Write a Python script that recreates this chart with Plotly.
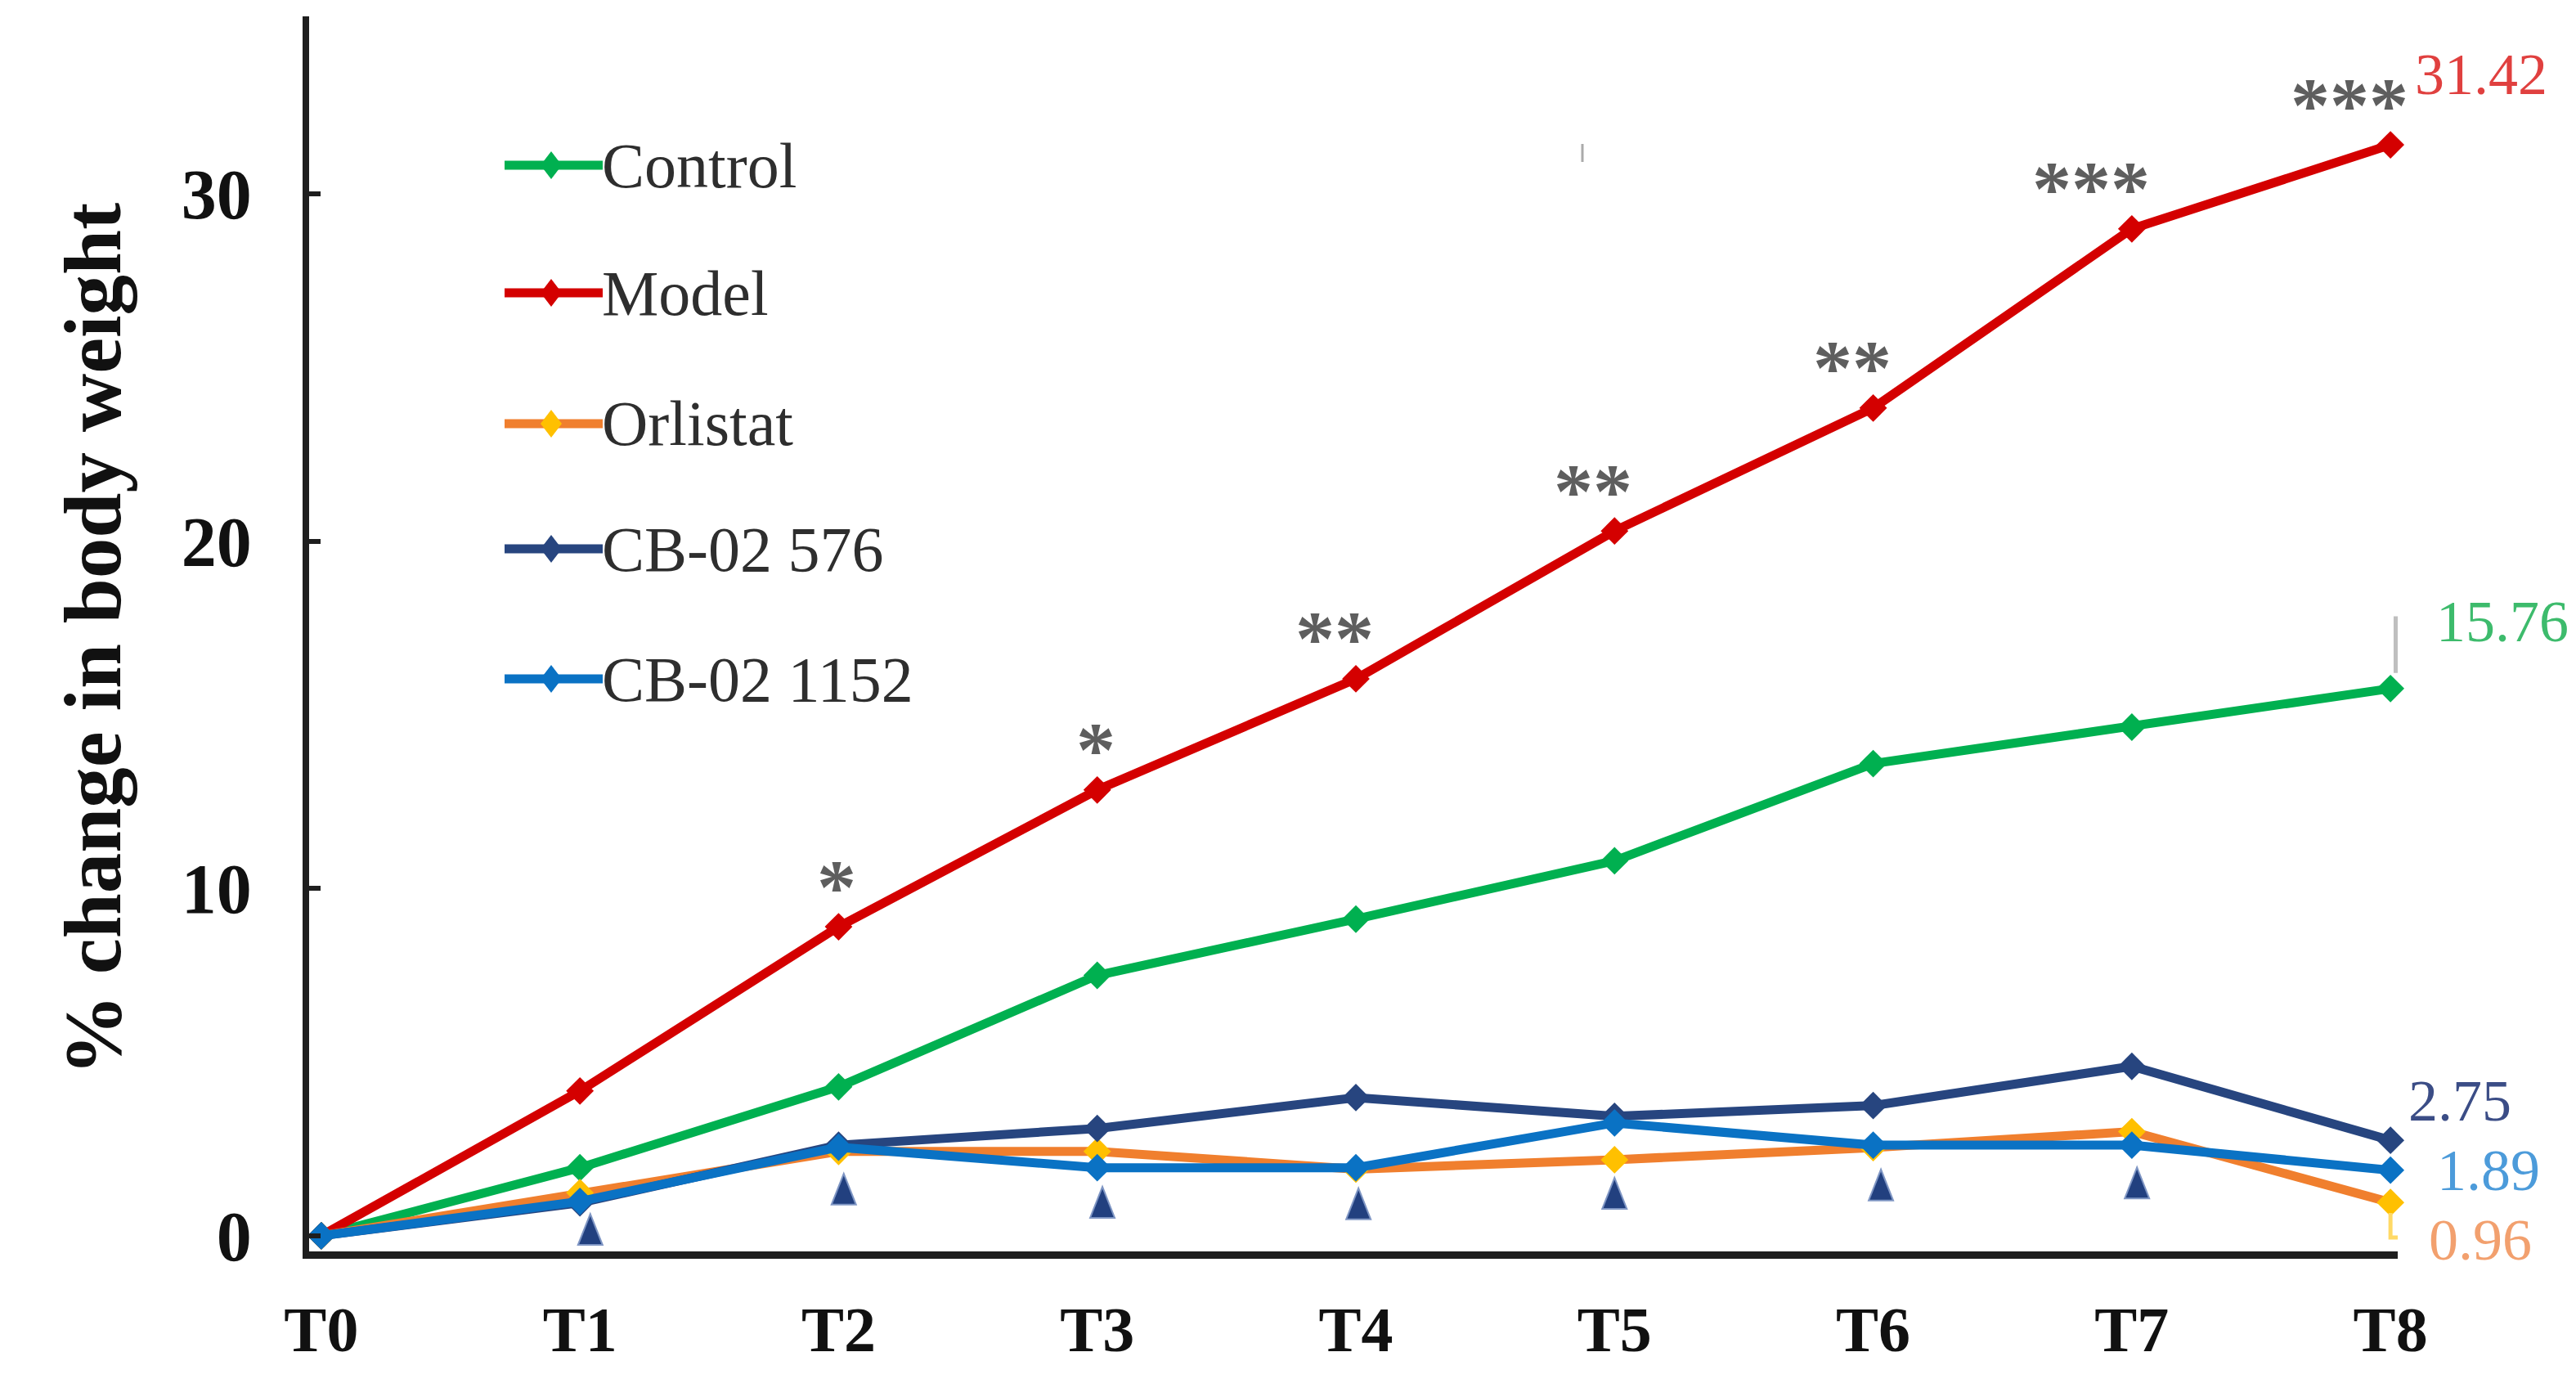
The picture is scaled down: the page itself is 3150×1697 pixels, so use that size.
import plotly.graph_objects as go

# ---------------- data ----------------
times = ["T0", "T1", "T2", "T3", "T4", "T5", "T6", "T7", "T8"]
control = [0, 1.96, 4.29, 7.5, 9.12, 10.8, 13.6, 14.65, 15.76]
model = [0, 4.17, 8.9, 12.84, 16.04, 20.3, 23.84, 29.0, 31.42]
orlistat = [0, 1.24, 2.43, 2.43, 1.92, 2.19, 2.54, 3.0, 0.96]
cb576 = [0, 0.95, 2.61, 3.09, 3.98, 3.44, 3.75, 4.88, 2.75]
cb1152 = [0, 0.99, 2.55, 1.96, 1.96, 3.25, 2.61, 2.61, 1.89]
sig_model = ["", "", "*", "*", "**", "**", "**", "***", "***"]
triangle_x = [1.04, 2.02, 3.02, 4.01, 5.0, 6.03, 7.02, 8.1]
triangle_y = [0.16, 1.32, 0.94, 0.9, 1.2, 1.44, 1.5, 1.48]
y_ticks = [0, 10, 20, 30]

series_names = ["Control", "Model", "Orlistat", "CB-02 576", "CB-02 1152"]
series_values = [control, model, orlistat, cb576, cb1152]
line_colors = ["#00B050", "#D40000", "#F07F2E", "#27457F", "#0A72C4"]
marker_colors = ["#00B050", "#D40000", "#FFC000", "#27457F", "#0A72C4"]
end_label_colors = ["#3DBB6C", "#E0403F", "#F2A06E", "#3B4D86", "#4C9BDA"]

SERIF = "Liberation Serif, Times New Roman, serif"

# layout geometry (pixels, page coordinates; the page body adds an 8 px offset)
OFF = 8
W, H = 3150 - OFF, 1697 - OFF
PX0, PX1, PY0, PY1 = 378, 2932, 20, 1530          # plot area on the page
ML, MT = PX0 - OFF, PY0 - OFF
PW, PH = PX1 - PX0, PY1 - PY0
MR, MB = W - ML - PW, H - MT - PH


def paper_x(px):
    return (px - PX0) / PW


def paper_y(py):
    return 1 - (py - PY0) / PH


x_idx = list(range(len(times)))

fig = go.Figure()

for name, vals, lc, mc in zip(series_names, series_values, line_colors, marker_colors):
    fig.add_trace(go.Scatter(
        x=x_idx, y=vals, mode="lines+markers", name=name,
        line=dict(color=lc, width=11),
        marker=dict(symbol="diamond", size=26, color=mc, line=dict(width=0)),
        cliponaxis=False, showlegend=False,
    ))

annotations = []
shapes = []

# significance triangles (tall, narrow), anchored at data positions
for tx, ty in zip(triangle_x, triangle_y):
    shapes.append(dict(type="path", xref="x", yref="y",
                       xsizemode="pixel", ysizemode="pixel",
                       xanchor=tx, yanchor=ty,
                       path="M -15,-18 L 15,-18 L 0,20 Z",
                       fillcolor="#22407F", line=dict(color="#7F96C4", width=2),
                       layer="above"))

# asterisks above model points
for i, s in enumerate(sig_model):
    if s:
        annotations.append(dict(
            x=x_idx[i], y=model[i], xref="x", yref="y", text=f"<b>{s}</b>",
            showarrow=False, xanchor="right", yanchor="middle",
            xshift=24, yshift=49,
            font=dict(family=SERIF, size=96, color="#5E5E5E"),
        ))

# end labels
end_shifts = {"Control": (54, 82), "Model": (28, 86), "Orlistat": (45, -46),
              "CB-02 576": (20, 48), "CB-02 1152": (55, 0)}
for name, vals, col in zip(series_names, series_values, end_label_colors):
    xs, ys = end_shifts[name]
    annotations.append(dict(
        x=x_idx[-1], y=vals[-1], xref="x", yref="y", text=f"{vals[-1]:.2f}",
        showarrow=False, xanchor="left", yanchor="middle",
        xshift=xs, yshift=ys,
        font=dict(family=SERIF, size=72, color=col),
    ))

# y-axis title
annotations.append(dict(
    x=paper_x(114), y=paper_y(782), xref="paper", yref="paper",
    text="<b>% change in body weight</b>", textangle=-90,
    showarrow=False, xanchor="center", yanchor="middle",
    font=dict(family=SERIF, size=99, color="#111111"),
))

# manual legend
legend_rows_px = [202, 358, 518, 671, 830]
for name, lc, mc, ypx in zip(series_names, line_colors, marker_colors, legend_rows_px):
    py = paper_y(ypx)
    shapes.append(dict(type="line", xref="paper", yref="paper",
                       x0=paper_x(617), x1=paper_x(737), y0=py, y1=py,
                       line=dict(color=lc, width=11)))
    shapes.append(dict(type="path", xref="paper", yref="paper",
                       xsizemode="pixel", ysizemode="pixel",
                       xanchor=paper_x(674), yanchor=py,
                       path="M -13,0 L 0,17 L 13,0 L 0,-17 Z",
                       fillcolor=mc, line=dict(width=0)))
    annotations.append(dict(
        x=paper_x(734), y=py, xref="paper", yref="paper", text=name,
        showarrow=False, xanchor="left", yanchor="middle",
        font=dict(family=SERIF, size=78, color="#2E2E2E"),
    ))

# leader lines for end labels
shapes.append(dict(type="path", xref="x", yref="y",
                   path=f"M {x_idx[-1]+0.02},{control[-1]+0.45} L {x_idx[-1]+0.02},17.78 L {x_idx[-1]+0.1},17.78",
                   line=dict(color="#BFBFBF", width=5)))
shapes.append(dict(type="path", xref="x", yref="y",
                   path=f"M {x_idx[-1]},{orlistat[-1]-0.3} L {x_idx[-1]},-0.05 L {x_idx[-1]+0.08},-0.05",
                   line=dict(color="#FFD966", width=5)))
# faint stray mark
shapes.append(dict(type="line", xref="paper", yref="paper",
                   x0=paper_x(1935), x1=paper_x(1935),
                   y0=paper_y(176), y1=paper_y(198),
                   line=dict(color="#AAAAAA", width=3)))

fig.update_layout(
    width=W, height=H,
    margin=dict(l=ML, r=MR, t=MT, b=MB),
    paper_bgcolor="white", plot_bgcolor="white",
    showlegend=False,
    annotations=annotations, shapes=shapes,
)

fig.update_xaxes(
    range=[-0.047, 8.028], tickvals=x_idx, ticktext=times,
    showgrid=False, zeroline=False,
    showline=True, linecolor="#1E1E1E", linewidth=9,
    ticks="", ticklabelstandoff=19,
    tickfont=dict(family=SERIF, size=78, color="#111111", weight="bold"),
)
fig.update_yaxes(
    range=[-0.45, 35.12], tickvals=y_ticks,
    showgrid=False, zeroline=False,
    showline=True, linecolor="#1E1E1E", linewidth=8,
    ticks="inside", ticklen=14, tickwidth=6, tickcolor="#1E1E1E",
    ticklabelstandoff=45,
    tickfont=dict(family=SERIF, size=86, color="#111111", weight="bold"),
)

fig.write_html("out.html")
